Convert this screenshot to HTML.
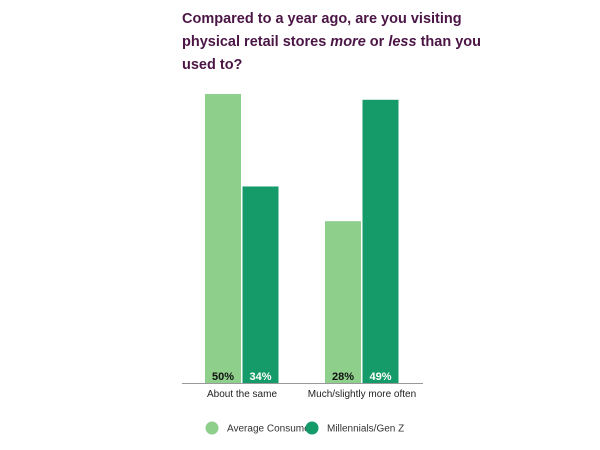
<!DOCTYPE html>
<html><head><meta charset="utf-8"><style>
body{margin:0;background:#fff;font-family:"Liberation Sans",sans-serif}
#title{position:absolute;left:182px;top:8px;width:300px;font-size:14.5px;font-weight:bold;line-height:23px;color:#4b1545}
</style></head><body>
<div id="title">Compared to a year ago, are you visiting physical retail stores <i>more</i> or <i>less</i> than you used to?</div>
<svg id="chart" width="600" height="450" style="position:absolute;left:0;top:0"></svg>
<script>
const categories=["About the same","Much/slightly more often"];
const avgConsumer=[50,28];
const genZ=[34,49];
const seriesNames=["Average Consumer","Millennials/Gen Z"];
const colors=["#8fcf8c","#159b69"];
const svg=document.getElementById('chart');
const NS="http://www.w3.org/2000/svg";
const base=383, pxPer=5.78;
const y=v=>base-v*pxPer;
const groupX=[205,325], bw=36;
function mk(t,a){const e=document.createElementNS(NS,t);for(const k in a)e.setAttribute(k,a[k]);svg.appendChild(e);return e;}
[avgConsumer,genZ].forEach((s,si)=>{
  s.forEach((v,i)=>{
    const x=groupX[i]+si*(bw+1.5);
    const r=mk('rect',{x:x,y:y(v),width:bw,height:base-y(v),fill:colors[si]});
    
    
    const t=mk('text',{x:x+bw/2,y:base-3,'text-anchor':'middle','font-size':'11','font-weight':'bold',fill:si?'#fff':'#111'});
    t.textContent=v+'%';
    
    
  });
});
const ax=mk('line',{x1:182,x2:423,y1:base+0.5,y2:base+0.5,stroke:'#999','stroke-width':1});


categories.forEach((c,i)=>{
  const t=mk('text',{x:groupX[i]+bw+1,y:397,'text-anchor':'middle','font-size':'10',fill:'#222'});
  t.textContent=c;
  
  
});
const legX=[212,312];
seriesNames.forEach((n,i)=>{
  const c=mk('circle',{cx:legX[i],cy:428,r:6.5,fill:colors[i]});
  
  
  const t=mk('text',{x:legX[i]+15,y:431.5,'font-size':'10',fill:'#333'});
  t.textContent=n;
  
  
});
</script>
</body></html>
